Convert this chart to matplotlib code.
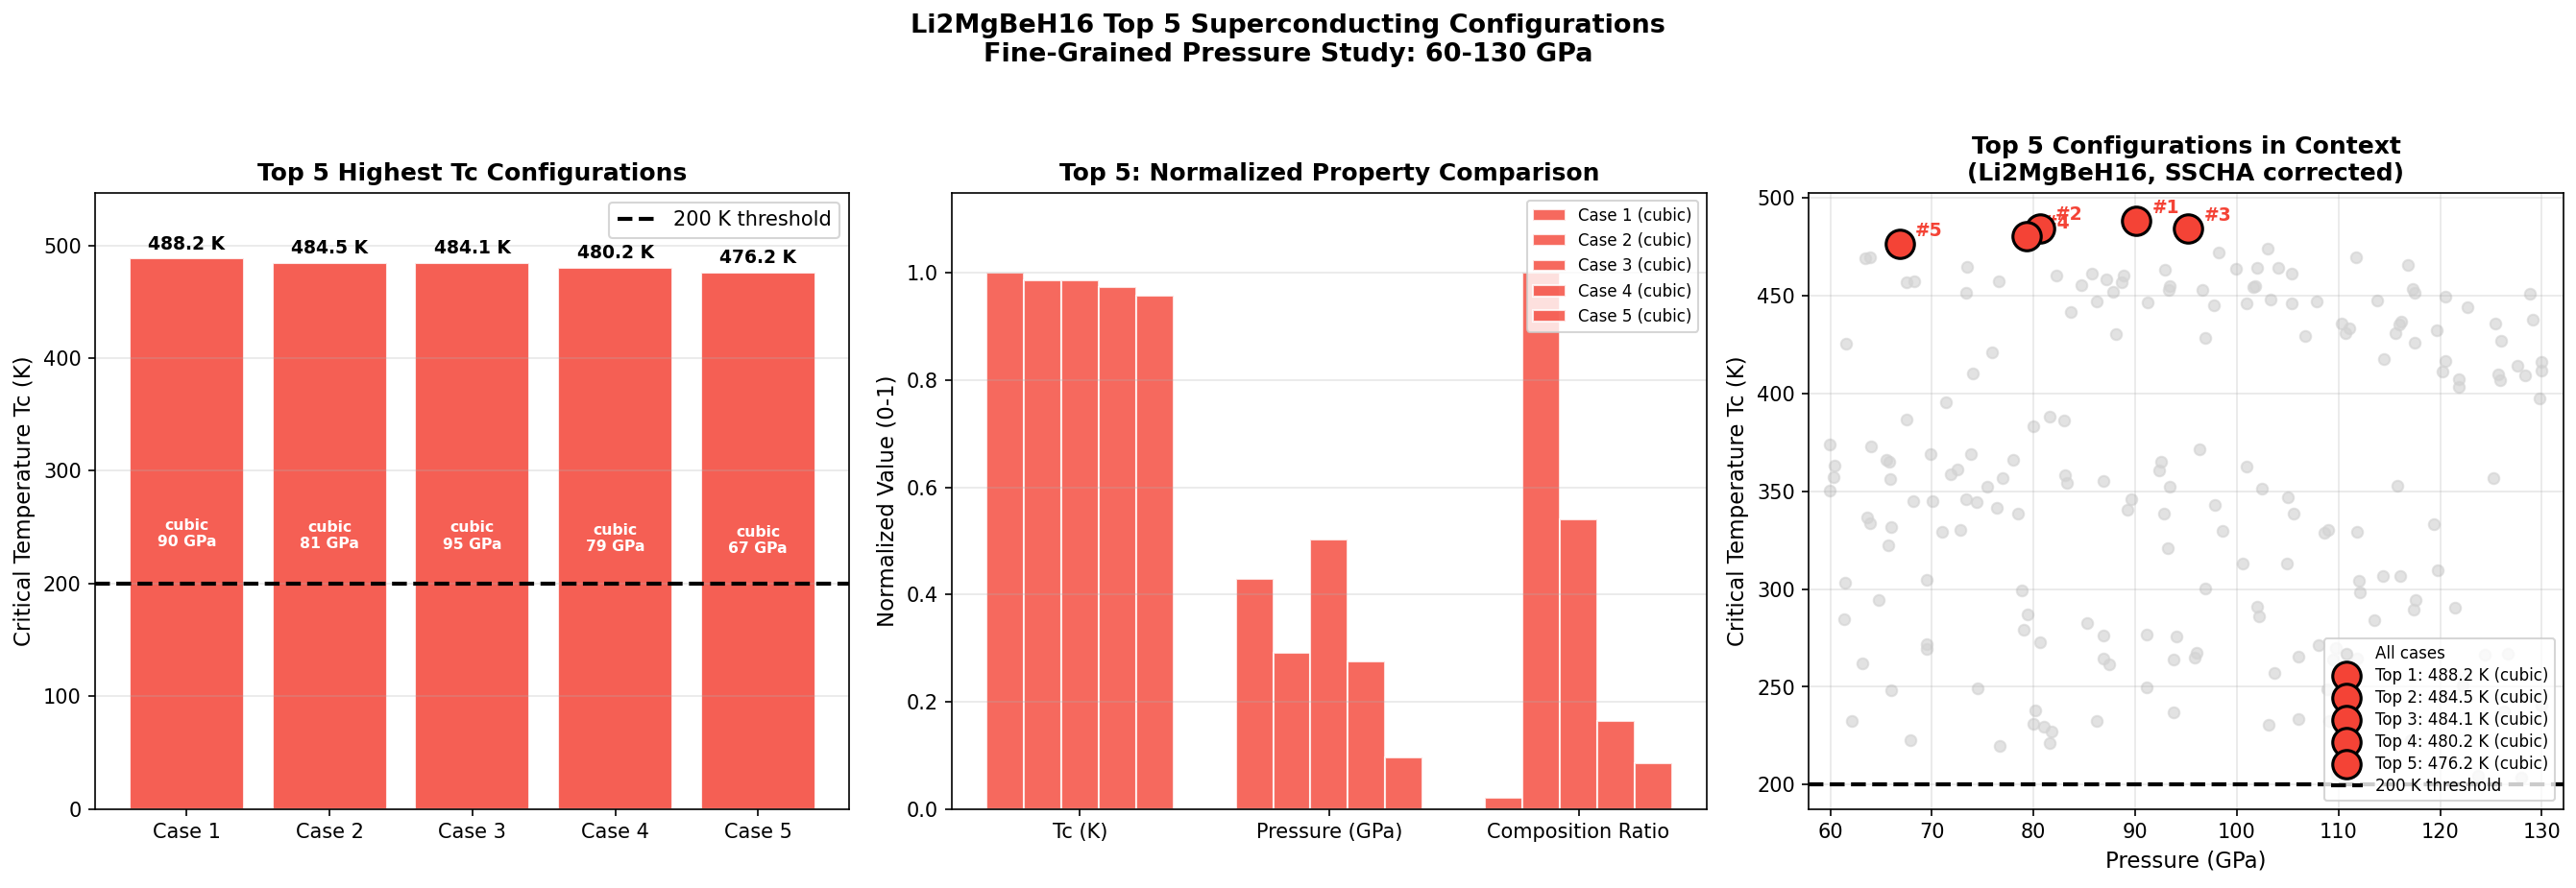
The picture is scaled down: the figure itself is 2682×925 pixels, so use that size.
import matplotlib
matplotlib.use('Agg')
import matplotlib.pyplot as plt
import numpy as np

# top 5 configurations
cases = ['Case 1', 'Case 2', 'Case 3', 'Case 4', 'Case 5']
tc_top = [488.2, 484.5, 484.1, 480.2, 476.2]
p_top = [90.1, 80.6, 95.2, 79.3, 66.8]
structs = ['cubic', 'cubic', 'cubic', 'cubic', 'cubic']

# normalized properties (0-1)
props = ['Tc (K)', 'Pressure (GPa)', 'Composition Ratio']
norm_tc = [1.0, 0.987, 0.986, 0.973, 0.958]
norm_p = [0.430, 0.291, 0.503, 0.276, 0.097]
norm_comp = [0.021, 1.0, 0.54, 0.164, 0.085]

# all cases (pressure GPa, Tc K)
all_p = [63.4, 63.9, 67.5, 68.3, 73.5, 73.4, 76.6, 82.2, 84.7, 85.7, 87.2, 88.9, 88.7, 87.8, 86.2,
         83.7, 92.9, 93.4, 93.3, 91.2, 88.1, 61.6, 75.9, 74.0, 71.4, 67.5, 81.6, 83.0, 80.0, 59.9,
         64.0, 60.4, 60.3, 59.9, 65.5, 65.8, 65.9, 69.9, 73.8, 71.9, 72.5, 78.0, 77.0, 75.4, 83.1,
         83.3, 86.9, 92.5, 92.4, 93.4,
         98.2, 103.0, 99.9, 102.0, 104.1, 105.4, 96.6, 97.7, 101.6, 101.8, 101.0, 103.3, 105.4,
         107.9, 96.9, 106.7, 111.7, 116.8, 117.3, 117.5, 113.8, 110.3, 111.1, 110.7, 116.2, 116.0,
         115.6, 117.5, 114.5, 119.7, 120.5, 122.7, 128.8, 125.4, 126.0, 129.1, 120.5, 120.2, 121.8,
         121.8, 125.7, 125.9, 127.6, 128.4, 130.0, 130.0, 129.8, 96.3, 101.0, 102.5, 115.8, 125.2,
         68.2, 70.1, 73.4, 74.4, 76.4, 78.5, 89.6, 89.2, 92.8, 93.2, 63.6, 63.9, 66.0, 65.7, 71.0,
         72.8, 61.5, 69.5, 78.8, 64.8, 61.4, 79.4, 79.0, 80.6, 69.5, 69.5, 63.2, 66.0, 74.5, 62.1,
         67.9, 76.7, 80.2, 80.0, 81.0, 81.8, 81.6, 85.3, 86.9, 86.9, 87.4, 86.2, 91.1, 94.1, 93.8,
         91.1, 93.8,
         97.8, 105.0, 105.6, 98.6, 100.6, 104.9, 108.6, 109.0, 111.8, 119.4, 96.9, 102.0, 102.2,
         112.0, 112.1, 114.4, 116.1, 119.8, 117.6, 117.4, 121.5, 113.5, 95.9, 96.0, 103.7, 106.1,
         108.0, 109.5, 109.7, 108.9, 106.1, 103.1, 109.1, 111.8, 124.4, 126.7, 109.8, 123.7, 128.0,
         122.2, 126.3, 117.1, 130.0]
all_tc = [469.2, 469.5, 457.0, 457.1, 464.9, 451.3, 457.5, 460.2, 455.2, 461.2, 458.3, 460.4, 457.0,
          451.7, 446.9, 441.5, 463.3, 454.8, 453.0, 446.4, 430.4, 425.3, 420.8, 410.2, 395.3, 386.8,
          388.0, 386.0, 383.1, 374.0, 372.8, 363.2, 357.3, 350.5, 366.1, 365.3, 356.3, 369.1, 369.1,
          358.8, 360.9, 366.0, 356.7, 352.4, 358.0, 354.1, 355.2, 365.1, 360.4, 352.3,
          471.8, 474.1, 463.5, 464.3, 464.1, 461.4, 452.9, 445.1, 454.2, 454.8, 445.9, 448.2, 446.0,
          447.2, 428.4, 429.2, 469.8, 465.8, 453.5, 451.6, 447.5, 435.6, 433.3, 431.0, 436.9, 435.3,
          430.7, 426.1, 417.5, 432.3, 449.6, 443.9, 450.8, 435.6, 427.1, 437.7, 416.5, 411.1, 407.4,
          403.1, 409.8, 406.6, 414.2, 409.0, 415.9, 411.6, 397.6, 371.5, 362.7, 351.4, 352.8, 356.8,
          344.9, 344.9, 346.0, 344.6, 341.6, 338.4, 346.0, 340.6, 338.4, 320.9, 336.6, 333.6, 331.9,
          322.3, 329.3, 330.2, 303.1, 304.6, 299.2, 294.3, 284.6, 287.0, 279.0, 272.6, 271.8, 269.2,
          261.9, 248.3, 249.3, 232.8, 223.0, 219.9, 238.0, 231.0, 229.5, 227.3, 221.1, 282.6, 276.2,
          264.3, 261.4, 232.5, 276.7, 275.9, 263.8, 249.9, 237.0,
          343.2, 346.9, 338.5, 329.8, 312.9, 312.9, 328.6, 330.4, 329.3, 333.0, 300.2, 291.0, 286.3,
          304.4, 298.5, 306.9, 306.9, 309.5, 294.4, 289.5, 290.6, 284.1, 265.1, 267.4, 257.0, 265.4,
          271.4, 263.9, 269.9, 249.0, 233.8, 230.7, 232.4, 264.6, 266.3, 267.1, 205.2, 204.8, 203.4,
          250.7, 237.7, 223.0, 240.2]

red = '#f44336'

fig = plt.figure(figsize=(17.88, 6.167), dpi=150)
ax1 = fig.add_subplot(131)
ax2 = fig.add_subplot(132)
ax3 = fig.add_subplot(133)
fig.subplots_adjust(left=0.037, right=0.995, bottom=0.089, top=0.783, wspace=0.136)

# panel 1: bars
xb = np.arange(len(cases))
bars = ax1.bar(xb, tc_top, color=red, alpha=0.85, edgecolor='white', linewidth=1)
ax1.axhline(200, color='black', linestyle='--', linewidth=2, label='200 K threshold')
for i, b in enumerate(bars):
    h = b.get_height()
    ax1.text(b.get_x() + b.get_width() / 2, h + 5, f'{h:.1f} K', ha='center', va='bottom',
             fontsize=9, fontweight='bold')
    ax1.text(b.get_x() + b.get_width() / 2, h / 2, f'{structs[i]}\n{p_top[i]:.0f} GPa',
             ha='center', va='center', fontsize=7.5, fontweight='bold', color='white')
ax1.set_xticks(xb)
ax1.set_xticklabels(cases)
ax1.set_ylabel('Critical Temperature Tc (K)', fontsize=11)
ax1.set_title('Top 5 Highest Tc Configurations', fontsize=12, fontweight='bold')
ax1.set_ylim(0, max(tc_top) * 1.12)
ax1.legend(loc='upper right', fontsize=10)
ax1.grid(axis='y', alpha=0.3)

# panel 2: normalized grouped bars
xg = np.arange(len(props))
w = 0.15
for i in range(5):
    vals = [norm_tc[i], norm_p[i], norm_comp[i]]
    ax2.bar(xg + (i - 2) * w, vals, w, color=red, alpha=0.8, edgecolor='white', linewidth=1,
            label=f'{cases[i]} ({structs[i]})')
ax2.set_xticks(xg)
ax2.set_xticklabels(props)
ax2.set_ylabel('Normalized Value (0-1)', fontsize=11)
ax2.set_title('Top 5: Normalized Property Comparison', fontsize=12, fontweight='bold')
ax2.set_ylim(0, 1.15)
ax2.legend(loc='upper right', fontsize=8)
ax2.grid(axis='y', alpha=0.3)

# panel 3: context scatter
ax3.scatter(all_p, all_tc, s=30, color='lightgray', alpha=0.65, label='All cases', zorder=1)
for i in range(5):
    ax3.scatter(p_top[i], tc_top[i], s=200, color=red, edgecolors='black', linewidths=1.5,
                zorder=5, label=f'Top {i + 1}: {tc_top[i]:.1f} K ({structs[i]})')
    ax3.annotate(f'#{i + 1}', (p_top[i], tc_top[i]), xytext=(8, 4), textcoords='offset points',
                 fontsize=9, fontweight='bold', color=red)
ax3.axhline(200, color='black', linestyle='--', linewidth=2, label='200 K threshold')
ax3.set_xlim(57.9, 132.1)
ax3.set_ylim(187.6, 502.6)
ax3.set_xlabel('Pressure (GPa)', fontsize=11)
ax3.set_ylabel('Critical Temperature Tc (K)', fontsize=11)
ax3.set_title('Top 5 Configurations in Context\n(Li2MgBeH16, SSCHA corrected)', fontsize=12,
              fontweight='bold')
ax3.legend(loc='lower right', fontsize=8, labelspacing=0.3)
ax3.grid(True, alpha=0.3)

fig.suptitle('Li2MgBeH16 Top 5 Superconducting Configurations\nFine-Grained Pressure Study: 60-130 GPa',
             fontsize=13, fontweight='bold', y=0.985)

fig.savefig('out.png', dpi=150)
